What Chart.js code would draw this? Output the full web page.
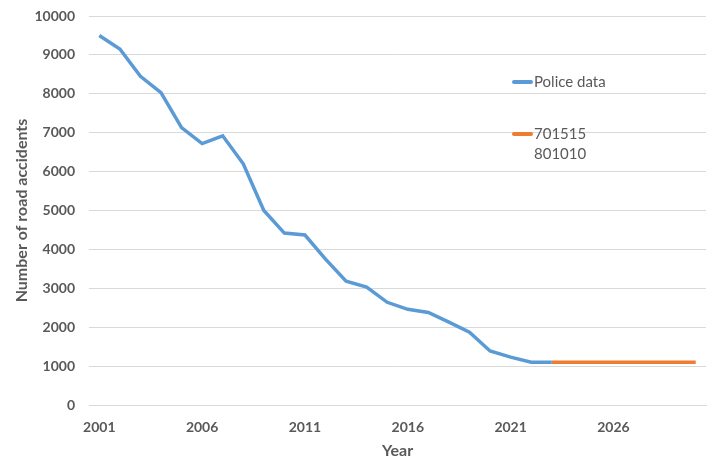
<!DOCTYPE html>
<html>
<head>
<meta charset="utf-8">
<script src="https://cdn.jsdelivr.net/npm/chart.js@4"></script>
<style>
  body { margin: 0; background: #fff; }
  #wrap { position: relative; width: 727px; height: 472px; }
  .leg { position: absolute; font-family: Lato, sans-serif; font-size: 15px; color: #595959; line-height: 20px; }
  .leg i { position: absolute; left: -22px; top: 9px; width: 21px; height: 3.5px; border-radius: 2px; }
</style>
</head>
<body>
<div id="wrap">
  <canvas id="chart" width="727" height="472"></canvas>
  <div class="leg" style="left:534px; top:71px;"><i style="background:#5b9bd5"></i>Police data</div>
  <div class="leg" style="left:534px; top:123px;"><i style="background:#ed7d31"></i>701515<br>801010</div>
</div>
<script>
const years = [];
for (let y = 2001; y <= 2030; y++) years.push(String(y));

const policeData = [9500, 9150, 8450, 8030, 7130, 6720, 6920, 6200, 5000, 4420,
  4370, 3750, 3180, 3030, 2640, 2460, 2380, 2130, 1870, 1390,
  1230, 1100, 1100];
const scenario = [null, null, null, null, null, null, null, null, null, null,
  null, null, null, null, null, null, null, null, null, null,
  null, null, 1100, 1100, 1100, 1100, 1100, 1100, 1100, 1100];

const yTicks = [0, 1000, 2000, 3000, 4000, 5000, 6000, 7000, 8000, 9000, 10000];

const grey = '#595959';

new Chart(document.getElementById('chart'), {
  type: 'line',
  data: {
    labels: years,
    datasets: [
      { label: 'Police data', data: policeData, borderColor: '#5b9bd5', borderWidth: 3.5, pointRadius: 0, tension: 0 },
      { label: '701515 801010', data: scenario, borderColor: '#ed7d31', borderWidth: 3.5, pointRadius: 0, tension: 0 }
    ]
  },
  options: {
    responsive: false,
    animation: false,
    layout: { padding: { top: 16, right: 21, left: 12, bottom: 8 } },
    plugins: { legend: { display: false }, tooltip: { enabled: false } },
    scales: {
      x: {
        offset: true,
        grid: { display: false },
        border: { color: '#d9d9d9' },
        ticks: {
          autoSkip: false, maxRotation: 0, color: grey, padding: 6,
          font: { family: 'Lato', size: 14, weight: 'bold' },
          callback: (v, i) => (i % 5 === 0 ? years[i] : '')
        },
        title: { display: true, text: 'Year', color: grey, font: { family: 'Lato', size: 16, weight: 'bold' }, padding: { top: -1 } }
      },
      y: {
        min: yTicks[0], max: yTicks[yTicks.length - 1],
        afterBuildTicks: s => { s.ticks = yTicks.map(v => ({ value: v })); },
        afterFit: s => { s.width = 77; s.paddingTop = 0; s.paddingBottom = 0; },
        grid: { color: '#d9d9d9', drawTicks: false },
        border: { display: false },
        ticks: { color: grey, padding: 14, font: { family: 'Lato', size: 14, weight: 'bold' }, callback: v => String(v) },
        title: { display: true, text: 'Number of road accidents', color: grey, font: { family: 'Lato', size: 16, weight: 'bold' }, padding: { top: 0, bottom: 0 } }
      }
    }
  }
});
</script>
</body>
</html>
